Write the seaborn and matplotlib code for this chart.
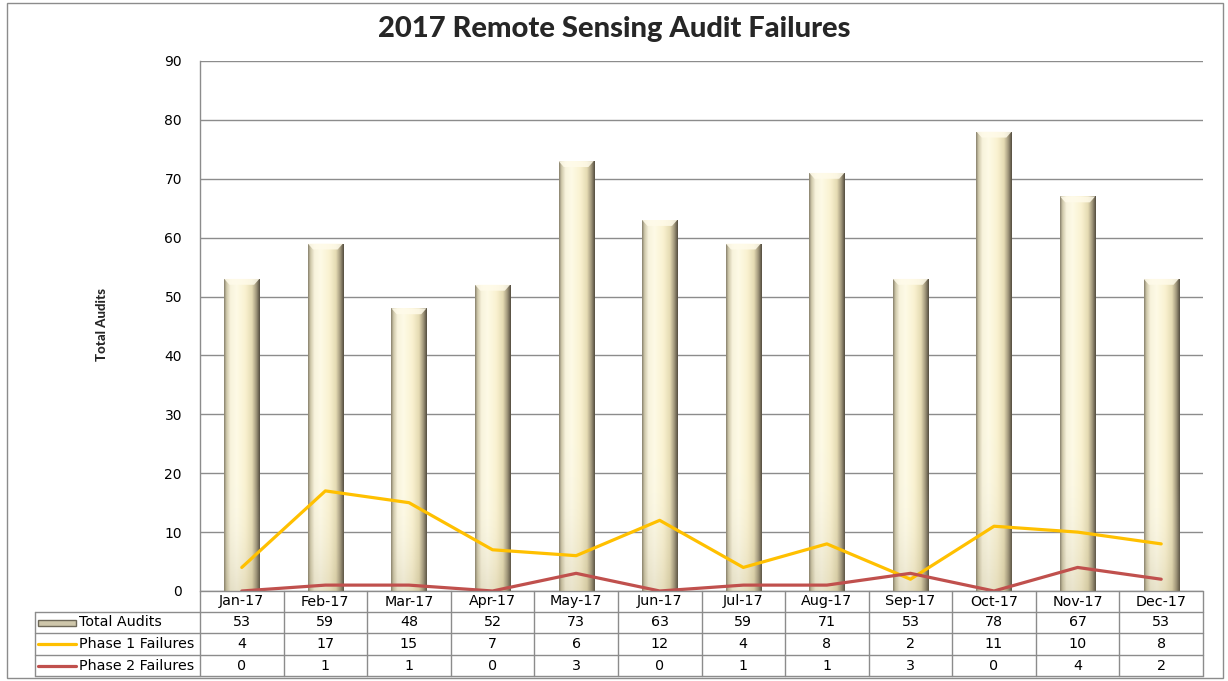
import numpy as np
import pandas as pd
import matplotlib
matplotlib.use("Agg")
import matplotlib.pyplot as plt
import seaborn as sns
from matplotlib.colors import LinearSegmentedColormap
from matplotlib.lines import Line2D
from matplotlib.patches import Rectangle, Polygon

months = ["Jan-17", "Feb-17", "Mar-17", "Apr-17", "May-17", "Jun-17",
          "Jul-17", "Aug-17", "Sep-17", "Oct-17", "Nov-17", "Dec-17"]
total_audits = [53, 59, 48, 52, 73, 63, 59, 71, 53, 78, 67, 53]
phase1_failures = [4, 17, 15, 7, 6, 12, 4, 8, 2, 11, 10, 8]
phase2_failures = [0, 1, 1, 0, 3, 0, 1, 1, 3, 0, 4, 2]
series_names = ["Total Audits", "Phase 1 Failures", "Phase 2 Failures"]
title = "2017 Remote Sensing Audit Failures"
y_label = "Total Audits"
y_ticks = list(range(0, 91, 10))

df = pd.DataFrame({"month": months, "total": total_audits,
                   "p1": phase1_failures, "p2": phase2_failures})

sns.set_theme(style="white")
plt.rcParams["font.family"] = ["DejaVu Sans"]

W, H = 1228, 681
fig = plt.figure(figsize=(W / 100, H / 100), dpi=100)
AX_L, AX_R, AX_T, AX_B = 200, 1203, 61, 591
ax = fig.add_axes([AX_L / W, 1 - AX_B / H, (AX_R - AX_L) / W, (AX_B - AX_T) / H])

Y1 = "#FFC000"
Y2 = "#C0504D"

sns.barplot(data=df, x="month", y="total", ax=ax, width=0.42,
            color="#F6EFD2", edgecolor="none", linewidth=0, zorder=2)

cmap = LinearSegmentedColormap.from_list("cyl", [
    (0.0, "#857f6b"), (0.07, "#cfc8aa"), (0.18, "#f8f3dc"),
    (0.35, "#fefae6"), (0.6, "#f9f1d0"), (0.78, "#e5dbb3"),
    (0.9, "#a1977c"), (1.0, "#524c3e")])
grad = np.linspace(0, 1, 256).reshape(1, -1)
for p in list(ax.patches):
    x0, y0 = p.get_x(), p.get_y()
    w, h = p.get_width(), p.get_height()
    im = ax.imshow(grad, cmap=cmap, aspect="auto",
                   extent=[x0, x0 + w, y0, y0 + h], zorder=2.1,
                   interpolation="bilinear")
    im.set_clip_path(p)
    vg = np.linspace(0, 1, 64).reshape(-1, 1)
    im2 = ax.imshow(vg, cmap=LinearSegmentedColormap.from_list(
        "v", [(0, (0.55, 0.5, 0.35, 0.18)), (1, (1, 1, 1, 0.0))]),
        aspect="auto", extent=[x0, x0 + w, y0, y0 + h * 0.35],
        origin="lower", zorder=2.2, interpolation="bilinear")
    im2.set_clip_path(p)
    top = y0 + h
    cap = 1.0
    ax.add_patch(Polygon([(x0, top), (x0 + w, top),
                          (x0 + w * 0.85, top - cap), (x0 + w * 0.15, top - cap)],
                         closed=True, facecolor="#fffbea", edgecolor="none",
                         zorder=2.3, alpha=0.85))

xs = np.arange(len(months))
sns.lineplot(x=xs, y=phase1_failures, ax=ax, color=Y1, linewidth=2.3,
             zorder=4, legend=False)
sns.lineplot(x=xs, y=phase2_failures, ax=ax, color=Y2, linewidth=2.3,
             zorder=4, legend=False)

ax.set_xlim(-0.5, len(months) - 0.5)
ax.set_ylim(0, 90)
ax.set_yticks(y_ticks)
ax.set_yticklabels([str(v) for v in y_ticks], fontsize=10, color="#000000")
ax.tick_params(axis="y", length=0, pad=13)
ax.set_xticks([])
ax.set_xlabel("")
ax.set_ylabel("")
ax.yaxis.grid(True, color="#8c8c8c", linewidth=1.0, zorder=0)
ax.set_axisbelow(True)
for s in ["top", "right", "bottom"]:
    ax.spines[s].set_visible(False)
ax.spines["left"].set_color("#8c8c8c")
ax.spines["left"].set_linewidth(1.0)

fig.text(102 / W, 1 - 325 / H, y_label, rotation=90, ha="center", va="center",
         fontsize=9.5, fontweight=900, family=["Lato", "DejaVu Sans"])
fig.text(614 / W, 1 - 29 / H, title, ha="center", va="center",
         fontsize=21, fontweight=900, family=["Lato", "DejaVu Sans"])

# ---- data table (drawn in figure pixel geometry) ----
def fx(px):
    return px / W

def fy(py):
    return 1 - py / H

edge = "#8c8c8c"
TBL_L = 35
TFS = 10.3
col_w = (AX_R - AX_L) / len(months)
row_edges = [591, 612, 633, 655, 676]

def hline(y, x0, x1):
    fig.add_artist(Line2D([fx(x0), fx(x1)], [fy(y), fy(y)], color=edge,
                          linewidth=1.0))

def vline(x, y0, y1):
    fig.add_artist(Line2D([fx(x), fx(x)], [fy(y0), fy(y1)], color=edge,
                          linewidth=1.0))

hline(row_edges[0], AX_L, AX_R)
for y in row_edges[1:]:
    hline(y, TBL_L, AX_R)
vline(TBL_L, row_edges[1], row_edges[-1])
for j in range(len(months) + 1):
    vline(AX_L + j * col_w, row_edges[0], row_edges[-1])

def row_center(i):
    return (row_edges[i] + row_edges[i + 1]) / 2

for j, m in enumerate(months):
    fig.text(fx(AX_L + (j + 0.5) * col_w), fy(row_center(0)), m,
             ha="center", va="center", fontsize=TFS, color="#000000")

rows = [total_audits, phase1_failures, phase2_failures]
for i, (name, vals) in enumerate(zip(series_names, rows), start=1):
    fig.text(fx(79), fy(row_center(i)), name, ha="left", va="center",
             fontsize=TFS, color="#000000")
    for j, v in enumerate(vals):
        fig.text(fx(AX_L + (j + 0.5) * col_w), fy(row_center(i)), str(v),
                 ha="center", va="center", fontsize=TFS, color="#000000")

# legend keys in row labels
fig.add_artist(Rectangle((fx(38), fy(626)), 38 / W, 6 / H,
                         facecolor="#cfc7ab", edgecolor="#6e6858",
                         linewidth=1.0))
fig.add_artist(Line2D([fx(38), fx(76)], [fy(row_center(2))] * 2, color=Y1,
                      linewidth=2.3))
fig.add_artist(Line2D([fx(38), fx(76)], [fy(row_center(3))] * 2, color=Y2,
                      linewidth=2.3))

# outer chart border
fig.add_artist(Rectangle((7 / W, 3 / H), 1216 / W, 675 / H, fill=False,
                         edgecolor="#8c8c8c", linewidth=1.0))

fig.savefig("out.png", dpi=100)
